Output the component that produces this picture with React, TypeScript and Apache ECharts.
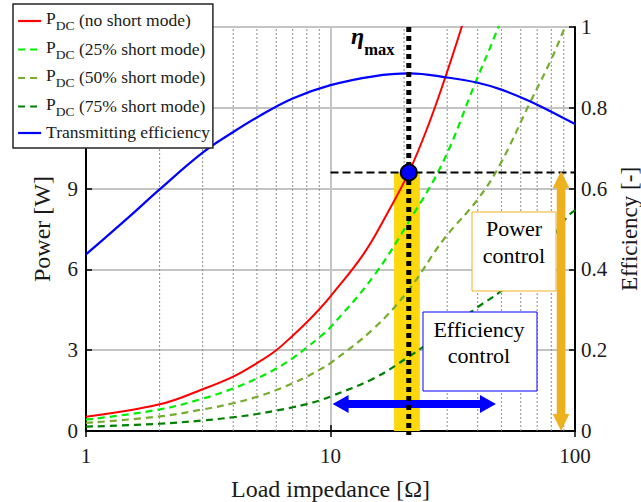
import { useEffect, useRef } from 'react';
import * as echarts from 'echarts';

const FONT = "'Liberation Serif', 'Times New Roman', serif";
const INK = '#1a1a1a';

// DC output power (W) against load impedance (Ω) for each short-mode ratio
const rNoShort = [1, 2, 3, 4, 5, 6, 7, 8, 9, 10, 13.6, 17, 20.9, 25, 29.4, 34.4, 38];
const pNoShort = [0.53, 0.99, 1.55, 2.02, 2.52, 3.0, 3.54, 4.04, 4.52, 5.0, 6.55, 8.05, 9.6, 11.3, 13.1, 15.0, 16.3];

const rShort25 = [1, 2, 3, 4, 5, 6, 7, 8, 9, 10, 15, 20.9, 28.9, 39, 48.6, 55];
const pShort25 = [0.42, 0.8, 1.2, 1.58, 1.95, 2.32, 2.7, 3.1, 3.48, 3.85, 5.75, 7.77, 10.0, 12.9, 15.0, 16.4];

const rShort50 = [1, 2, 3, 4, 5, 6, 7, 8, 9, 10, 15, 20.9, 28.9, 40, 49.4, 65.5, 80, 91, 100];
const pShort50 = [0.3, 0.54, 0.8, 1.03, 1.27, 1.52, 1.77, 2.02, 2.27, 2.52, 3.8, 5.24, 7.09, 8.6, 9.9, 12.2, 13.8, 15.0, 15.9];

const rShort75 = [1, 2, 3, 4, 5, 6, 7, 8, 9, 10, 15, 20.9, 30, 40, 50, 60, 70, 80, 93, 100];
const pShort75 = [0.16, 0.27, 0.39, 0.51, 0.63, 0.76, 0.88, 1.0, 1.13, 1.28, 1.95, 2.76, 3.75, 4.6, 5.2, 5.85, 6.5, 7.15, 7.95, 8.2];

// Transmitting efficiency (-) against load impedance (Ω)
const rEff = [1, 1.5, 2, 3, 4, 5, 7, 10, 15, 21, 30, 40, 50, 65, 80, 100];
const effTx = [0.437, 0.53, 0.598, 0.689, 0.74, 0.776, 0.823, 0.856, 0.878, 0.885, 0.875, 0.862, 0.845, 0.817, 0.79, 0.76];

// Operating point at maximum efficiency
const etaMaxR = 20.9;
const etaMaxP = 9.6;
const bandR = [18.2, 23.2];
// Control ranges
const effCtrlR = [10.2, 47.5];
const effCtrlP = 1.0;
const powCtrlR = 87.7;
const powCtrlP = [0, 9.65];
const refLineR = [10, 100];

// Axis ranges and ticks
const powerMax = 15;
const powerStep = 3;
const effMax = 1;
const effStep = 0.2;
const minorR = [2, 3, 4, 5, 6, 7, 8, 9, 20, 30, 40, 50, 60, 70, 80, 90];

const seriesNames = [
  'PDC (no short mode)',
  'PDC (25% short mode)',
  'PDC (50% short mode)',
  'PDC (75% short mode)',
  'Transmitting efficiency',
];

const zip = (xs: number[], ys: number[]) => xs.map((x, i) => [x, ys[i]]);

function arrowPoints(a: number[], b: number[], shaftHalf: number, headLen: number, headHalf: number) {
  const dx = b[0] - a[0];
  const dy = b[1] - a[1];
  const len = Math.hypot(dx, dy);
  const ux = dx / len;
  const uy = dy / len;
  const nx = -uy;
  const ny = ux;
  const p = (t: number, s: number) => [a[0] + ux * t + nx * s, a[1] + uy * t + ny * s];
  return [
    p(0, 0), p(headLen, headHalf), p(headLen, shaftHalf), p(len - headLen, shaftHalf),
    p(len - headLen, headHalf), p(len, 0), p(len - headLen, -headHalf), p(len - headLen, -shaftHalf),
    p(headLen, -shaftHalf), p(headLen, -headHalf),
  ];
}

const axisText = { fontFamily: FONT, fontSize: 21, color: INK };
const nameText = { fontFamily: FONT, fontSize: 24, color: INK };

function buildOption(): any {
  const lineBase = { type: 'line', symbol: 'none', smooth: 0.4, z: 2, silent: true };
  return {
    animation: false,
    backgroundColor: '#fff',
    grid: { left: 86, right: 66, top: 27, bottom: 71, outerBoundsMode: 'none', containLabel: false },
    legend: {
      data: seriesNames,
      orient: 'vertical',
      left: 13,
      top: 4,
      padding: [5, 3, 5, 4],
      itemGap: 4.5,
      itemWidth: 23,
      itemHeight: 14,
      selectedMode: false,
      backgroundColor: '#fff',
      borderColor: '#262626',
      borderWidth: 1.5,
      borderRadius: 0,
      z: 20,
      itemStyle: { opacity: 0, borderWidth: 0 },
      lineStyle: { width: 2.2 },
      formatter: (name: string) =>
        name.startsWith('PDC')
          ? `{p|P}{sub|DC}{t|${name.slice(3)}}`
          : `{t|${name}}`,
      textStyle: {
        fontFamily: FONT,
        fontSize: 17.5,
        color: INK,
        rich: {
          p: { fontFamily: FONT, fontSize: 17.5, lineHeight: 18, padding: [0, 0, 6, 0], color: INK },
          sub: { fontFamily: FONT, fontSize: 13.5, lineHeight: 13, padding: [9, 0, 0, 0], color: INK },
          t: { fontFamily: FONT, fontSize: 17.5, lineHeight: 14, padding: [0, 0, 2, 0], color: INK },
        },
      },
    },
    xAxis: [
      {
        type: 'log',
        logBase: 10,
        min: 1,
        max: 100,
        position: 'bottom',
        name: 'Load impedance [Ω]',
        nameLocation: 'middle',
        nameGap: 46,
        nameTextStyle: nameText,
        axisLine: { lineStyle: { color: '#000', width: 2 } },
        axisTick: { inside: true, length: 6, lineStyle: { color: '#000', width: 1.5 } },
        axisLabel: { ...axisText, margin: 14 },
        splitLine: { show: true, lineStyle: { color: '#c4c4c4', width: 2 } },
      },
      {
        type: 'log',
        logBase: 10,
        min: 1,
        max: 100,
        position: 'top',
        axisLine: { lineStyle: { color: '#000', width: 2 } },
        axisTick: { inside: true, length: 6, lineStyle: { color: '#000', width: 1.5 } },
        axisLabel: { show: false },
        splitLine: { show: false },
      },
    ],
    yAxis: [
      {
        type: 'value',
        min: 0,
        max: powerMax,
        interval: powerStep,
        position: 'left',
        name: 'Power [W]',
        nameLocation: 'middle',
        nameGap: 32,
        nameTextStyle: nameText,
        axisLine: { show: true, lineStyle: { color: '#000', width: 2 } },
        axisTick: { show: true, inside: true, length: 6, lineStyle: { color: '#000', width: 1.5 } },
        axisLabel: { ...axisText, margin: 8, formatter: (v: number) => (v > 9 ? '' : String(v)) },
        splitLine: { show: true, lineStyle: { color: '#c4c4c4', width: 2 } },
      },
      {
        type: 'value',
        min: 0,
        max: effMax,
        interval: effStep,
        position: 'right',
        name: 'Efficiency [-]',
        nameLocation: 'middle',
        nameGap: 39,
        nameRotate: 90,
        nameTextStyle: { ...nameText, fontSize: 23 },
        axisLine: { show: true, lineStyle: { color: '#000', width: 2 } },
        axisTick: { show: true, inside: true, length: 6, lineStyle: { color: '#000', width: 1.5 } },
        axisLabel: { ...axisText, margin: 6 },
        splitLine: { show: false },
      },
    ],
    series: [
      {
        name: 'minor grid',
        type: 'custom',
        z: 1,
        silent: true,
        xAxisIndex: 0,
        yAxisIndex: 0,
        data: minorR.map((r) => [r, 0]),
        encode: { x: 0, y: 1 },
        renderItem: (_p: any, api: any) => {
          const r = api.value(0);
          const a = api.coord([r, 0]);
          const b = api.coord([r, powerMax]);
          return {
            type: 'line',
            shape: { x1: a[0], y1: a[1], x2: b[0], y2: b[1] },
            style: { stroke: '#8c8c8c', lineWidth: 1, lineDash: [2, 2] },
          };
        },
      },
      {
        name: 'optimum band',
        type: 'custom',
        z: 1,
        silent: true,
        xAxisIndex: 0,
        yAxisIndex: 0,
        data: [[etaMaxR, etaMaxP]],
        encode: { x: 0, y: 1 },
        renderItem: (_p: any, api: any) => {
          const a = api.coord([bandR[0], etaMaxP]);
          const b = api.coord([bandR[1], 0]);
          return {
            type: 'rect',
            shape: { x: a[0], y: a[1], width: b[0] - a[0], height: b[1] - a[1] },
            style: { fill: '#fcd80c' },
          };
        },
      },
      {
        ...lineBase,
        name: seriesNames[0],
        yAxisIndex: 0,
        data: zip(rNoShort, pNoShort),
        lineStyle: { color: '#ff0000', width: 2 },
        itemStyle: { color: '#ff0000' },
      },
      {
        ...lineBase,
        name: seriesNames[1],
        yAxisIndex: 0,
        data: zip(rShort25, pShort25),
        lineStyle: { color: '#00ee00', width: 2.2, type: [7, 5] },
        itemStyle: { color: '#00ee00' },
      },
      {
        ...lineBase,
        name: seriesNames[2],
        yAxisIndex: 0,
        data: zip(rShort50, pShort50),
        lineStyle: { color: '#77ac30', width: 2.2, type: [7, 5] },
        itemStyle: { color: '#77ac30' },
      },
      {
        ...lineBase,
        name: seriesNames[3],
        yAxisIndex: 0,
        data: zip(rShort75, pShort75),
        lineStyle: { color: '#008000', width: 2.2, type: [7, 5] },
        itemStyle: { color: '#008000' },
      },
      {
        ...lineBase,
        name: seriesNames[4],
        yAxisIndex: 1,
        data: zip(rEff, effTx),
        lineStyle: { color: '#0000ff', width: 2.2 },
        itemStyle: { color: '#0000ff' },
      },
      {
        name: 'annotations',
        type: 'custom',
        z: 3,
        silent: true,
        xAxisIndex: 0,
        yAxisIndex: 0,
        data: [[etaMaxR, etaMaxP]],
        encode: { x: 0, y: 1 },
        renderItem: (_p: any, api: any) => {
          const c = (x: number, y: number) => api.coord([x, y]);
          const pt = c(etaMaxR, etaMaxP);
          const vTop = c(etaMaxR, powerMax);
          const vBot = c(etaMaxR, -0.15);
          const h1 = c(refLineR[0], etaMaxP);
          const h2 = c(refLineR[1], etaMaxP);
          const e1 = c(effCtrlR[0], effCtrlP);
          const e2 = c(effCtrlR[1], effCtrlP);
          const o1 = c(powCtrlR, powCtrlP[0]);
          const o2 = c(powCtrlR, powCtrlP[1]);
          return {
            type: 'group',
            children: [
              {
                type: 'line',
                shape: { x1: h1[0], y1: h1[1], x2: h2[0], y2: h2[1] },
                style: { stroke: '#000', lineWidth: 2, lineDash: [8, 4] },
              },
              {
                type: 'polygon',
                shape: { points: arrowPoints(e1, e2, 4, 16, 9) },
                style: { fill: '#0000ff' },
              },
              {
                type: 'polygon',
                shape: { points: arrowPoints(o1, o2, 4.3, 17, 8.3) },
                style: { fill: '#edb120' },
              },
              {
                type: 'line',
                shape: { x1: vTop[0], y1: vTop[1], x2: vBot[0], y2: vBot[1] },
                style: { stroke: '#000', lineWidth: 5, lineDash: [5, 4] },
              },
              {
                type: 'circle',
                shape: { cx: pt[0], cy: pt[1], r: 8 },
                style: { fill: '#0000ff', stroke: '#000', lineWidth: 2 },
              },
            ],
          };
        },
      },
    ],
    graphic: [
      {
        type: 'text',
        z: 30,
        silent: true,
        style: {
          x: 351,
          y: 36,
          text: '{e|η}{s|max}',
          verticalAlign: 'middle',
          align: 'left',
          rich: {
            e: { fontFamily: FONT, fontSize: 24, fontStyle: 'italic', fontWeight: 'bold', lineHeight: 24, fill: '#000' },
            s: { fontFamily: FONT, fontSize: 16.5, fontWeight: 'bold', lineHeight: 16, padding: [27, 0, 0, 0], fill: '#000' },
          },
        },
      },
      {
        type: 'rect',
        z: 30,
        silent: true,
        shape: { x: 472, y: 212, width: 84, height: 79 },
        style: { fill: '#fff', stroke: '#edb120', lineWidth: 1 },
      },
      {
        type: 'text',
        z: 31,
        silent: true,
        style: {
          x: 514,
          y: 242,
          text: 'Power\ncontrol',
          align: 'center',
          verticalAlign: 'middle',
          fontFamily: FONT,
          fontSize: 22,
          lineHeight: 26.5,
          fill: '#000',
        },
      },
      {
        type: 'rect',
        z: 30,
        silent: true,
        shape: { x: 423, y: 312, width: 114, height: 79 },
        style: { fill: '#fff', stroke: '#0000ff', lineWidth: 1 },
      },
      {
        type: 'text',
        z: 31,
        silent: true,
        style: {
          x: 479,
          y: 342.5,
          text: 'Efficiency\ncontrol',
          align: 'center',
          verticalAlign: 'middle',
          fontFamily: FONT,
          fontSize: 22,
          lineHeight: 25.5,
          fill: '#000',
        },
      },
    ],
  };
}

export default function App() {
  const ref = useRef<HTMLDivElement>(null);
  useEffect(() => {
    if (!ref.current) return;
    const chart = echarts.init(ref.current, undefined, { renderer: 'svg' });
    chart.setOption(buildOption());
    return () => chart.dispose();
  }, []);
  return (
    <div
      ref={ref}
      style={{ position: 'fixed', left: 0, top: 0, width: 641, height: 502, background: '#fff' }}
    />
  );
}
